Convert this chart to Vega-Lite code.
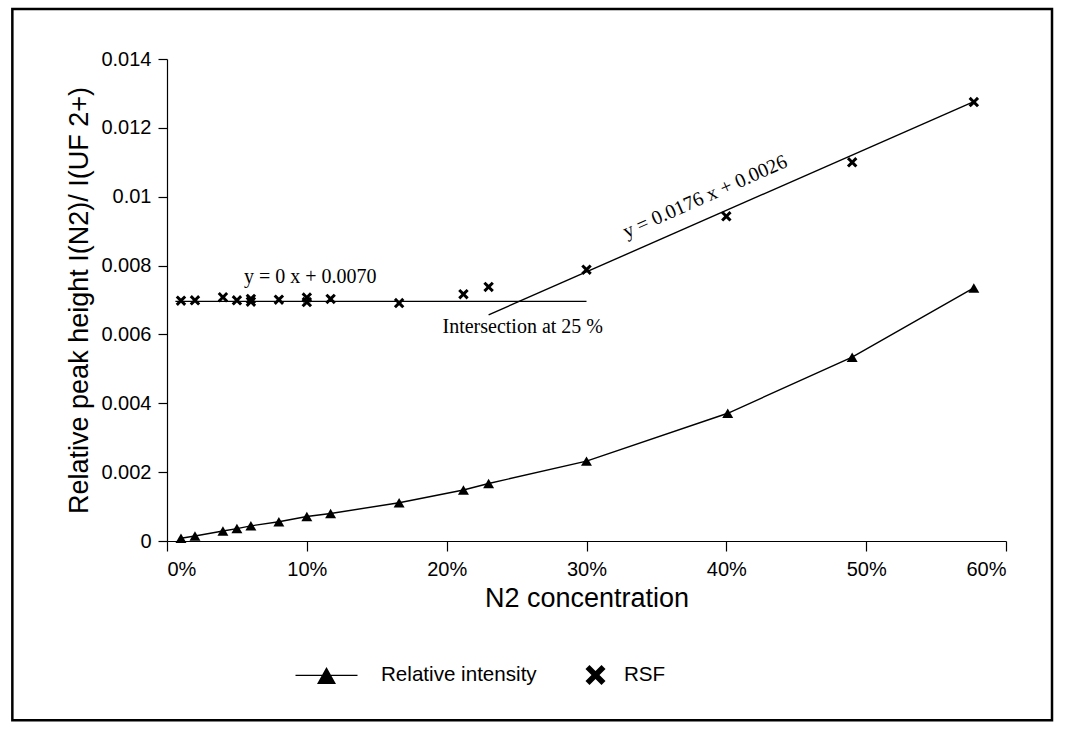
{
  "$schema": "https://vega.github.io/schema/vega-lite/v6.json",
  "autosize": {"type": "none"},
  "width": 839,
  "height": 482,
  "padding": {"left": 167, "top": 59, "right": 62, "bottom": 193},
  "background": "white",
  "config": {
    "view": {"stroke": null},
    "font": "Liberation Sans",
    "axis": {"grid": false, "domainColor": "black", "tickColor": "black", "labelColor": "black", "titleColor": "black", "labelFont": "Liberation Sans", "titleFont": "Liberation Sans", "titleFontWeight": "normal", "domainWidth": 1.2, "tickWidth": 1.2}
  },
  "datasets": {
    "pts": [
      {"series": "Relative intensity", "n2": 0.01, "v": 0.00008},
      {"series": "Relative intensity", "n2": 0.02, "v": 0.000145},
      {"series": "Relative intensity", "n2": 0.04, "v": 0.00029},
      {"series": "Relative intensity", "n2": 0.05, "v": 0.00036},
      {"series": "Relative intensity", "n2": 0.06, "v": 0.00044},
      {"series": "Relative intensity", "n2": 0.08, "v": 0.00056},
      {"series": "Relative intensity", "n2": 0.10, "v": 0.00071},
      {"series": "Relative intensity", "n2": 0.117, "v": 0.0008},
      {"series": "Relative intensity", "n2": 0.166, "v": 0.00111},
      {"series": "Relative intensity", "n2": 0.212, "v": 0.00148},
      {"series": "Relative intensity", "n2": 0.23, "v": 0.00167},
      {"series": "Relative intensity", "n2": 0.30, "v": 0.00232},
      {"series": "Relative intensity", "n2": 0.401, "v": 0.00371},
      {"series": "Relative intensity", "n2": 0.49, "v": 0.00534},
      {"series": "Relative intensity", "n2": 0.577, "v": 0.00735},
      {"series": "RSF", "n2": 0.01, "v": 0.00698},
      {"series": "RSF", "n2": 0.02, "v": 0.00699},
      {"series": "RSF", "n2": 0.04, "v": 0.00708},
      {"series": "RSF", "n2": 0.05, "v": 0.00699},
      {"series": "RSF", "n2": 0.06, "v": 0.00695},
      {"series": "RSF", "n2": 0.06, "v": 0.00703},
      {"series": "RSF", "n2": 0.08, "v": 0.00701},
      {"series": "RSF", "n2": 0.10, "v": 0.00694},
      {"series": "RSF", "n2": 0.10, "v": 0.00707},
      {"series": "RSF", "n2": 0.117, "v": 0.00703},
      {"series": "RSF", "n2": 0.166, "v": 0.00691},
      {"series": "RSF", "n2": 0.212, "v": 0.00717},
      {"series": "RSF", "n2": 0.23, "v": 0.00738},
      {"series": "RSF", "n2": 0.30, "v": 0.00788},
      {"series": "RSF", "n2": 0.40, "v": 0.00943},
      {"series": "RSF", "n2": 0.49, "v": 0.011},
      {"series": "RSF", "n2": 0.577, "v": 0.01275}
    ],
    "fits": [
      {"fit": "flat", "n2": 0.006, "v": 0.00696},
      {"fit": "flat", "n2": 0.30, "v": 0.00696},
      {"fit": "slope", "n2": 0.23, "v": 0.00657},
      {"fit": "slope", "n2": 0.577, "v": 0.01276}
    ],
    "notes": [
      {"label": "y = 0 x + 0.0070", "n2": 0.1024, "v": 0.00768},
      {"label": "Intersection at 25 %", "n2": 0.2544, "v": 0.00622}
    ],
    "slopenote": [
      {"label": "y = 0.0176 x + 0.0026", "n2": 0.3848, "v": 0.0100}
    ]
  },
  "layer": [
    {
      "data": {"values": [{"frame": "border"}]},
      "mark": {"type": "rect", "filled": false, "stroke": "black", "strokeWidth": 2.5, "clip": false},
      "encoding": {
        "x": {"datum": -0.1106, "type": "quantitative", "scale": {"domain": [0, 0.6]}},
        "x2": {"datum": 0.6329},
        "y": {"datum": 0.01545, "type": "quantitative", "scale": {"domain": [0, 0.014]}},
        "y2": {"datum": -0.00521}
      }
    },
    {
      "data": {"name": "pts"},
      "transform": [{"filter": "datum.series === 'Relative intensity'"}],
      "mark": {"type": "line", "color": "black", "strokeWidth": 1.4},
      "encoding": {
        "x": {"field": "n2", "type": "quantitative"},
        "y": {"field": "v", "type": "quantitative"}
      }
    },
    {
      "data": {"name": "fits"},
      "mark": {"type": "line", "color": "black", "strokeWidth": 1.4},
      "encoding": {
        "x": {"field": "n2", "type": "quantitative"},
        "y": {"field": "v", "type": "quantitative"},
        "detail": {"field": "fit"}
      }
    },
    {
      "data": {"name": "pts"},
      "mark": {"type": "point", "filled": true, "color": "black", "opacity": 0, "size": 120},
      "encoding": {
        "x": {
          "field": "n2", "type": "quantitative",
          "scale": {"domain": [0, 0.6]},
          "axis": {"values": [0, 0.1, 0.2, 0.3, 0.4, 0.5, 0.6], "format": ".0%", "tickSize": 10, "labelPadding": 8, "labelFontSize": 20, "title": "N2 concentration", "titleFontSize": 27, "titleBaseline": "alphabetic", "titleY": 65}
        },
        "y": {
          "field": "v", "type": "quantitative",
          "scale": {"domain": [0, 0.014]},
          "axis": {"values": [0, 0.002, 0.004, 0.006, 0.008, 0.01, 0.012, 0.014], "format": "~g", "tickSize": 9, "labelPadding": 7, "labelFontSize": 20, "title": "Relative peak height  I(N2)/ I(UF 2+)", "titleFontSize": 27, "titleX": -80, "titleY": 241, "titleBaseline": "alphabetic"}
        },
        "shape": {
          "field": "series", "type": "nominal",
          "scale": {"domain": ["Relative intensity", "RSF"], "range": ["M-2.6,-0.85L-1.65,0.85L-3.55,0.85Z M-5.7,-0.06L0.5,-0.06L0.5,0.06L-5.7,0.06Z", "M-1,-0.6L-0.6,-1L0,-0.4L0.6,-1L1,-0.6L0.4,0L1,0.6L0.6,1L0,0.4L-0.6,1L-1,0.6L-0.4,0Z"]},
          "legend": {
            "title": null, "orient": "none", "legendX": 175, "legendY": 605, "direction": "horizontal", "padding": 0,
            "symbolSize": 400, "symbolOpacity": 1, "symbolFillColor": "black", "symbolStrokeColor": "black", "symbolStrokeWidth": 0.8,
            "labelOffset": 18, "columnPadding": 46, "labelFont": "Liberation Sans", "labelFontSize": 20.6, "labelColor": "black"
          }
        }
      }
    },
    {
      "data": {"name": "pts"},
      "transform": [{"filter": "datum.series === 'Relative intensity'"}],
      "mark": {"type": "point", "filled": true, "color": "black", "opacity": 1, "size": 120, "shape": "triangle-up"},
      "encoding": {
        "x": {"field": "n2", "type": "quantitative"},
        "y": {"field": "v", "type": "quantitative"}
      }
    },
    {
      "data": {"name": "pts"},
      "transform": [{"filter": "datum.series === 'RSF'"}],
      "mark": {"type": "point", "filled": true, "color": "black", "opacity": 1, "size": 110, "shape": "M-1,-0.6L-0.6,-1L0,-0.4L0.6,-1L1,-0.6L0.4,0L1,0.6L0.6,1L0,0.4L-0.6,1L-1,0.6L-0.4,0Z"},
      "encoding": {
        "x": {"field": "n2", "type": "quantitative"},
        "y": {"field": "v", "type": "quantitative"}
      }
    },
    {
      "data": {"name": "notes"},
      "mark": {"type": "text", "font": "Liberation Serif", "fontSize": 20, "color": "black", "align": "center", "baseline": "middle"},
      "encoding": {
        "x": {"field": "n2", "type": "quantitative"},
        "y": {"field": "v", "type": "quantitative"},
        "text": {"field": "label"}
      }
    },
    {
      "data": {"name": "slopenote"},
      "mark": {"type": "text", "font": "Liberation Serif", "fontSize": 20, "color": "black", "align": "center", "baseline": "middle", "angle": 336},
      "encoding": {
        "x": {"field": "n2", "type": "quantitative"},
        "y": {"field": "v", "type": "quantitative"},
        "text": {"field": "label"}
      }
    }
  ]
}
